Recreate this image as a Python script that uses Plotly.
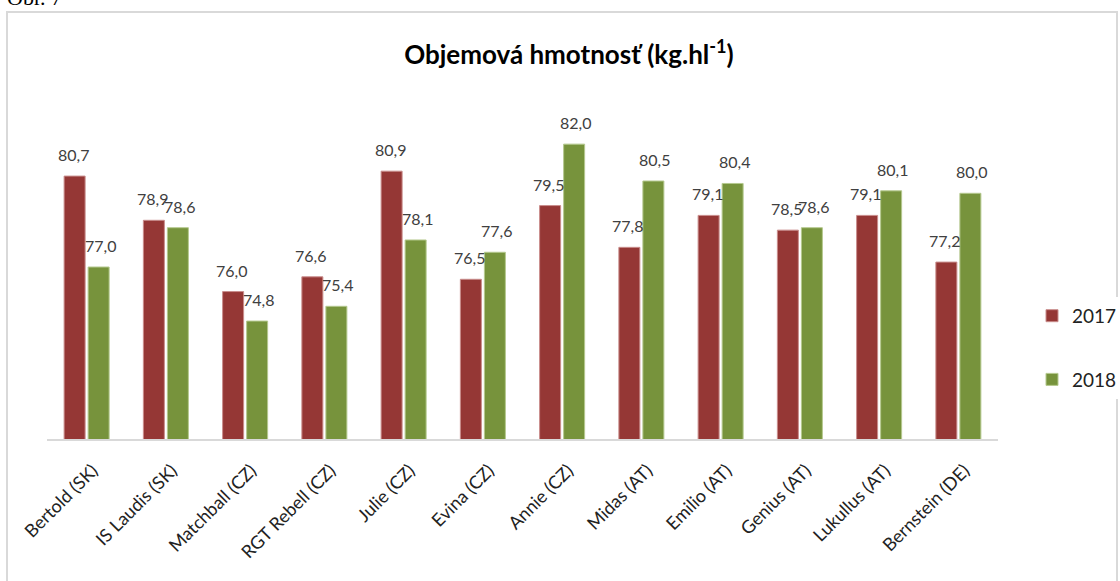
import plotly.graph_objects as go

# data
varieties = ["Bertold (SK)", "IS Laudis (SK)", "Matchball (CZ)", "RGT Rebell (CZ)",
             "Julie (CZ)", "Evina (CZ)", "Annie (CZ)", "Midas (AT)", "Emilio (AT)",
             "Genius (AT)", "Lukullus (AT)", "Bernstein (DE)"]
vals_2017 = [80.7, 78.9, 76.0, 76.6, 80.9, 76.5, 79.5, 77.8, 79.1, 78.5, 79.1, 77.2]
vals_2018 = [77.0, 78.6, 74.8, 75.4, 78.1, 77.6, 82.0, 80.5, 80.4, 78.6, 80.1, 80.0]

red = "#953735"
green = "#77933C"
font_main = "Lato, Open Sans, sans-serif"

fig = go.Figure()
fig.add_trace(go.Bar(x=varieties, y=vals_2017, name="2017", legendgroup="a",
                     marker=dict(color=red, line=dict(color="#c98d8c", width=1))))
fig.add_trace(go.Bar(x=varieties, y=vals_2018, name="2018", legendgroup="b",
                     marker=dict(color=green, line=dict(color="#b5c98f", width=1))))

# data labels above each bar
annotations = []
for series, shift in ((vals_2017, -13.5), (vals_2018, 13.5)):
    for cat, v in zip(varieties, series):
        annotations.append(dict(
            x=cat, y=v, xref="x", yref="y", xshift=shift, yshift=10,
            text=f"{v:.1f}".replace(".", ","), showarrow=False,
            yanchor="bottom", font=dict(family=font_main, size=16, color="#404040")))

# "Obr. 7" caption mostly cut at the top
annotations.append(dict(x=-0.044, y=1.242, xref="paper", yref="paper", text="Obr. 7",
                        showarrow=False, xanchor="left", yanchor="bottom",
                        font=dict(family="Liberation Serif", size=22, color="#000")))

fig.update_layout(
    width=1120, height=581,
    margin=dict(l=47, r=122, t=95, b=142, autoexpand=False),
    paper_bgcolor="white", plot_bgcolor="white",
    barmode="group", bargap=0.394, bargroupgap=0.125,
    title=dict(text="<b>Objemová hmotnosť (kg.hl<sup>-1</sup>)</b>", x=0.508, xanchor="center",
               y=0.905, yanchor="middle",
               font=dict(family=font_main, size=26, color="#000")),
    xaxis=dict(showline=True, linecolor="#d9d9d9", linewidth=2, tickangle=-45,
               ticks="", automargin=False, ticklabelstandoff=12, ticklabelshift=6,
               tickfont=dict(family=font_main, size=18, color="#222")),
    yaxis=dict(range=[70, 84], visible=False),
    legend=dict(x=(1032 - 47) / 951, xanchor="left", y=0.265, yanchor="middle",
                tracegroupgap=36, font=dict(family=font_main, size=19, color="#222")),
    annotations=annotations,
    shapes=[dict(type="rect", xref="paper", yref="paper",
                 x0=(7 - 47) / 951, x1=(1117 - 47) / 951,
                 y0=-0.6, y1=(439 - 12) / 344,
                 line=dict(color="#d9d9d9", width=2))],
    showlegend=True,
)

fig.write_html("out.html", config={"displayModeBar": False},
               post_script="document.body.style.margin='0';")
